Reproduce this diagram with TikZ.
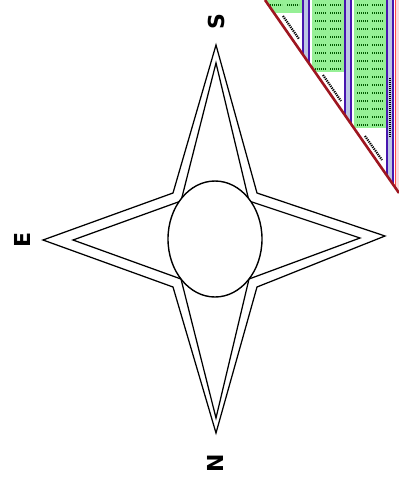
\documentclass[tikz,border=0pt]{standalone}
\usepackage{fontspec}
\setmainfont{DejaVu Sans}
\usetikzlibrary{calc}

\definecolor{cellgreen}{RGB}{150,240,150}
\definecolor{barblue}{RGB}{188,198,228}
\definecolor{barpurple}{RGB}{72,22,175}
\definecolor{edgered}{RGB}{158,22,32}
\definecolor{cellpink}{RGB}{250,222,222}

\begin{document}
\begin{tikzpicture}[x=1pt,y=-1pt]
  \useasboundingbox (0,0) rectangle (399,485);
  \tikzset{star/.style={line width=1.25pt,line join=miter},
           letter/.style={font=\fontsize{22}{22}\selectfont\bfseries,rotate=90,inner sep=0pt},
           scribble/.style={green!35!black,line width=1.3pt,dash pattern=on 1.2pt off 0.8pt}}

 % cut-off sheet in the corner
  \begin{scope}
    \clip (265,0) -- (399,0) -- (399,193) -- cycle;
    \fill[cellgreen] (265,0) rectangle (302,13);
    \fill[cellgreen] (312,0) rectangle (344,72);
    \fill[cellgreen] (354,0) rectangle (386,128);
    \fill[cellpink] (395,0) rectangle (399,200);
    \draw[red!70, line width=0.6pt] (395,0) -- (395,200);
    \foreach \x in {303,345,387} {
      \fill[barblue] (\x,0) rectangle (\x+6,200);
      \draw[barpurple, line width=1.4pt] (\x,0) -- (\x,200) (\x+6,0) -- (\x+6,200);
    }
    % tiny cell texts
    \draw[scribble] (270,5) -- (282,5) (287,5) -- (299,5);
    \foreach \y in {5,13,...,69}
      \draw[scribble] (315,\y) -- (326,\y) (330,\y) -- (341,\y);
    \foreach \y in {5,13,...,125}
      \draw[scribble] (357,\y) -- (368,\y) (372,\y) -- (383,\y);
    \draw[black, line width=1.6pt, dash pattern=on 1pt off 1pt] (390,78) -- (390,138);
    \draw[black, line width=2.2pt, dash pattern=on 1.2pt off 1pt] (283,16) -- (299,39);
    \draw[black, line width=2.2pt, dash pattern=on 1.2pt off 1pt] (323,75) -- (341,101);
    \draw[black, line width=2.2pt, dash pattern=on 1.2pt off 1pt] (365,136) -- (382,160);
  \end{scope}
  \draw[edgered, line width=2.6pt] (265,0) -- (399,193);

 % star, outer and inner outline
  \draw[star, fill=white] (216,45) -- (173,193) -- (43,240) -- (173,287) -- (216,433)
    -- (257,287) -- (385,236) -- (257,193) -- cycle;
  \draw[star] (216,63) -- (181,201) -- (73,240) -- (181,279) -- (216,418)
    -- (249,279) -- (360,238) -- (249,201) -- cycle;

 % centre disc
  \draw[line width=1.4pt, fill=white] (215,239) ellipse [x radius=47, y radius=58];

 % points of the compass
  \node[letter] (south) at (216,22) {S};
  \node[letter] (east) at (22,240) {E};
  \node[letter] (north) at (215,463) {N};
  \node[letter] (west) at (408,240) {W};
\end{tikzpicture}
\end{document}
